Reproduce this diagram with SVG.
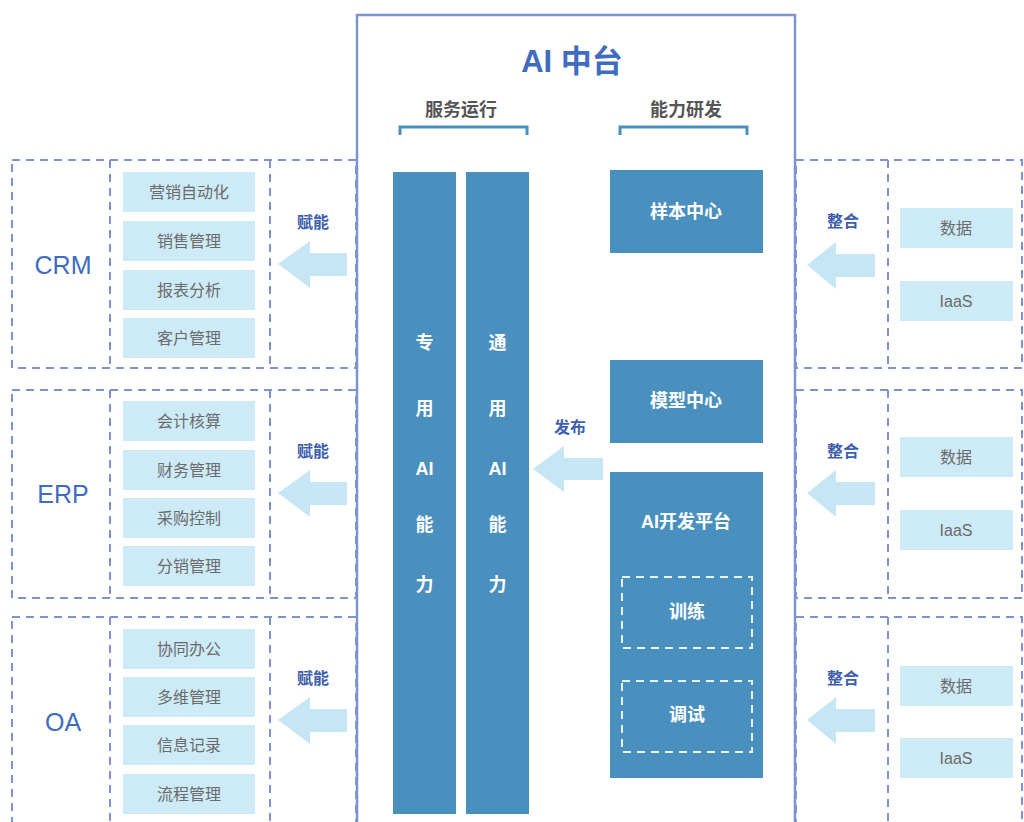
<svg xmlns="http://www.w3.org/2000/svg" width="1024" height="822" viewBox="0 0 1024 822">
<style>
text{font-family:"Liberation Sans","Noto Sans CJK SC",sans-serif;text-anchor:middle;dominant-baseline:central}
.dash{fill:none;stroke:#7f93d3;stroke-width:2;stroke-dasharray:8 6}
.item{fill:#cdeaf7}
.itxt{font-size:16px;fill:#6b6b6b}
.blk{fill:#4a90bf}
.wt{font-size:18px;fill:#ffffff;font-weight:bold}
.lbl{font-size:16px;fill:#3f5fae;font-weight:bold}
.sys{font-size:25px;fill:#3f6cc0}
.hdr{font-size:18px;fill:#555555;font-weight:bold}
.arr{fill:#c6e6f6}
.brk{fill:none;stroke:#4a90bf;stroke-width:3}
.wdash{fill:none;stroke:#e8f2fa;stroke-width:2;stroke-dasharray:8 6}
</style>
<rect width="1024" height="822" fill="#ffffff"/>

<g id="left-rows">
  <g id="crm">
    <rect class="dash" x="12" y="160" width="344" height="208"/>
    <line class="dash" x1="110" y1="160" x2="110" y2="368"/>
    <line class="dash" x1="270" y1="160" x2="270" y2="368"/>
    <text class="sys" x="63" y="265">CRM</text>
    <rect class="item" x="123" y="172" width="132" height="40"/><text class="itxt" x="189" y="192">营销自动化</text>
    <rect class="item" x="123" y="221" width="132" height="40"/><text class="itxt" x="189" y="241">销售管理</text>
    <rect class="item" x="123" y="270" width="132" height="40"/><text class="itxt" x="189" y="290">报表分析</text>
    <rect class="item" x="123" y="318" width="132" height="40"/><text class="itxt" x="189" y="338">客户管理</text>
  </g>
  <g id="erp">
    <rect class="dash" x="12" y="390" width="344" height="208"/>
    <line class="dash" x1="110" y1="390" x2="110" y2="598"/>
    <line class="dash" x1="270" y1="390" x2="270" y2="598"/>
    <text class="sys" x="63" y="494">ERP</text>
    <rect class="item" x="123" y="401" width="132" height="40"/><text class="itxt" x="189" y="421">会计核算</text>
    <rect class="item" x="123" y="450" width="132" height="40"/><text class="itxt" x="189" y="470">财务管理</text>
    <rect class="item" x="123" y="498" width="132" height="40"/><text class="itxt" x="189" y="518">采购控制</text>
    <rect class="item" x="123" y="546" width="132" height="40"/><text class="itxt" x="189" y="566">分销管理</text>
  </g>
  <g id="oa">
    <rect class="dash" x="12" y="617" width="344" height="215"/>
    <line class="dash" x1="110" y1="617" x2="110" y2="822"/>
    <line class="dash" x1="270" y1="617" x2="270" y2="822"/>
    <text class="sys" x="63" y="722">OA</text>
    <rect class="item" x="123" y="629" width="132" height="40"/><text class="itxt" x="189" y="649">协同办公</text>
    <rect class="item" x="123" y="677" width="132" height="40"/><text class="itxt" x="189" y="697">多维管理</text>
    <rect class="item" x="123" y="725" width="132" height="40"/><text class="itxt" x="189" y="745">信息记录</text>
    <rect class="item" x="123" y="774" width="132" height="40"/><text class="itxt" x="189" y="794">流程管理</text>
  </g>
</g>

<g id="right-rows">
  <g id="res1">
    <rect class="dash" x="796" y="160" width="226" height="208"/>
    <line class="dash" x1="888" y1="160" x2="888" y2="368"/>
    <rect class="item" x="900" y="208" width="113" height="40"/><text class="itxt" x="956" y="228">数据</text>
    <rect class="item" x="900" y="281" width="113" height="40"/><text class="itxt" x="956" y="301">IaaS</text>
  </g>
  <g id="res2">
    <rect class="dash" x="796" y="390" width="226" height="208"/>
    <line class="dash" x1="888" y1="390" x2="888" y2="598"/>
    <rect class="item" x="900" y="437" width="113" height="40"/><text class="itxt" x="956" y="457">数据</text>
    <rect class="item" x="900" y="510" width="113" height="40"/><text class="itxt" x="956" y="530">IaaS</text>
  </g>
  <g id="res3">
    <rect class="dash" x="796" y="617" width="226" height="215"/>
    <line class="dash" x1="888" y1="617" x2="888" y2="822"/>
    <rect class="item" x="900" y="666" width="113" height="40"/><text class="itxt" x="956" y="686">数据</text>
    <rect class="item" x="900" y="738" width="113" height="40"/><text class="itxt" x="956" y="758">IaaS</text>
  </g>
</g>

<g id="ai-platform">
  <rect x="357" y="15" width="438" height="820" fill="#ffffff" stroke="#7f93d3" stroke-width="2.5"/>
  <text x="572" y="61" font-size="31" fill="#3f6cc0" font-weight="bold">AI 中台</text>
  <text class="hdr" x="461" y="110">服务运行</text>
  <text class="hdr" x="686" y="110">能力研发</text>
  <path class="brk" d="M400 135 V127 H527 V135"/>
  <path class="brk" d="M620 135 V127 H747 V135"/>
</g>

<g id="col-special">
  <rect class="blk" x="393" y="172" width="63" height="642"/>
  <text class="wt" x="424.5" y="343">专</text>
  <text class="wt" x="424.5" y="409">用</text>
  <text class="wt" x="424.5" y="469">AI</text>
  <text class="wt" x="424.5" y="525">能</text>
  <text class="wt" x="424.5" y="585">力</text>
</g>
<g id="col-general">
  <rect class="blk" x="466" y="172" width="63" height="642"/>
  <text class="wt" x="497.5" y="343">通</text>
  <text class="wt" x="497.5" y="409">用</text>
  <text class="wt" x="497.5" y="469">AI</text>
  <text class="wt" x="497.5" y="525">能</text>
  <text class="wt" x="497.5" y="585">力</text>
</g>
<g id="sample-center">
  <rect class="blk" x="610" y="170" width="153" height="83"/>
  <text class="wt" x="686" y="212">样本中心</text>
</g>
<g id="model-center">
  <rect class="blk" x="610" y="360" width="153" height="83"/>
  <text class="wt" x="686" y="401">模型中心</text>
</g>
<g id="dev-platform">
  <rect class="blk" x="610" y="472" width="153" height="306"/>
  <text class="wt" x="686" y="522">AI开发平台</text>
  <g id="train">
    <rect class="wdash" x="622" y="577" width="130" height="71"/>
    <text class="wt" x="687" y="612">训练</text>
  </g>
  <g id="debug">
    <rect class="wdash" x="622" y="681" width="130" height="71"/>
    <text class="wt" x="687" y="715">调试</text>
  </g>
</g>

<g id="connectors">
  <text class="lbl" x="313" y="222">赋能</text>
  <polygon class="arr" points="278,264 310,241 310,253 347,253 347,276 310,276 310,288"/>
  <text class="lbl" x="313" y="451">赋能</text>
  <polygon class="arr" points="278,493 310,470 310,482 347,482 347,505 310,505 310,517"/>
  <text class="lbl" x="313" y="678">赋能</text>
  <polygon class="arr" points="278,720 310,697 310,709 347,709 347,732 310,732 310,744"/>

  <text class="lbl" x="843" y="221">整合</text>
  <polygon class="arr" points="807,265 836,242 836,254 875,254 875,277 836,277 836,289"/>
  <text class="lbl" x="843" y="451">整合</text>
  <polygon class="arr" points="807,493 836,470 836,482 875,482 875,505 836,505 836,517"/>
  <text class="lbl" x="843" y="678">整合</text>
  <polygon class="arr" points="807,720 836,697 836,709 875,709 875,732 836,732 836,744"/>

  <text class="lbl" x="570" y="427">发布</text>
  <polygon class="arr" points="533,469 564,446 564,458 603,458 603,480 564,480 564,492"/>
</g>
</svg>
